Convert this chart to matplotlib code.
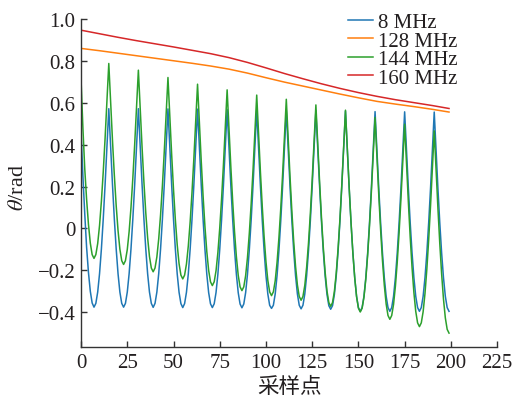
import matplotlib
matplotlib.use('Agg')
import matplotlib.pyplot as plt
import numpy as np

# ------------------------------------------------------------
# Data (sample index 0..199)
# ------------------------------------------------------------
# 8 MHz, one row per 16 samples
theta_8 = [
    0.460, 0.250, 0.070, -0.090, -0.210, -0.300, -0.356, -0.376, -0.358, -0.304, -0.216, -0.098, 0.045, 0.209, 0.387, 0.572,
    0.387, 0.209, 0.045, -0.098, -0.216, -0.304, -0.358, -0.376, -0.358, -0.304, -0.216, -0.098, 0.045, 0.209, 0.387, 0.572,
    0.387, 0.209, 0.045, -0.098, -0.216, -0.304, -0.358, -0.377, -0.358, -0.304, -0.216, -0.098, 0.045, 0.209, 0.386, 0.571,
    0.386, 0.208, 0.044, -0.099, -0.217, -0.305, -0.359, -0.378, -0.359, -0.305, -0.217, -0.099, 0.044, 0.207, 0.385, 0.570,
    0.385, 0.207, 0.043, -0.100, -0.218, -0.306, -0.360, -0.378, -0.360, -0.306, -0.218, -0.100, 0.043, 0.206, 0.384, 0.568,
    0.384, 0.206, 0.042, -0.101, -0.219, -0.307, -0.361, -0.379, -0.361, -0.307, -0.219, -0.101, 0.041, 0.205, 0.382, 0.567,
    0.382, 0.203, 0.038, -0.106, -0.225, -0.313, -0.367, -0.382, -0.367, -0.313, -0.225, -0.107, 0.036, 0.201, 0.379, 0.565,
    0.382, 0.203, 0.038, -0.106, -0.225, -0.313, -0.367, -0.384, -0.367, -0.313, -0.225, -0.107, 0.036, 0.201, 0.379, 0.563,
    0.380, 0.201, 0.036, -0.108, -0.227, -0.315, -0.369, -0.386, -0.369, -0.315, -0.227, -0.109, 0.034, 0.199, 0.376, 0.561,
    0.372, 0.193, 0.028, -0.116, -0.235, -0.324, -0.378, -0.396, -0.378, -0.324, -0.235, -0.117, 0.027, 0.191, 0.370, 0.558,
    0.372, 0.193, 0.028, -0.116, -0.235, -0.324, -0.378, -0.396, -0.378, -0.324, -0.235, -0.117, 0.027, 0.191, 0.370, 0.557,
    0.372, 0.193, 0.028, -0.116, -0.235, -0.324, -0.378, -0.396, -0.378, -0.324, -0.235, -0.117, 0.027, 0.191, 0.370, 0.556,
    0.370, 0.191, 0.027, -0.117, -0.235, -0.324, -0.378, -0.396,
]

# 144 MHz
theta_144 = [
    0.710, 0.480, 0.285, 0.139, 0.020, -0.070, -0.125, -0.143, -0.125, -0.072, 0.014, 0.130, 0.270, 0.431, 0.606, 0.788,
    0.601, 0.420, 0.254, 0.109, -0.010, -0.099, -0.154, -0.172, -0.154, -0.101, -0.015, 0.100, 0.240, 0.401, 0.575, 0.756,
    0.568, 0.387, 0.221, 0.075, -0.044, -0.134, -0.189, -0.207, -0.189, -0.136, -0.050, 0.065, 0.205, 0.366, 0.540, 0.721,
    0.533, 0.353, 0.186, 0.041, -0.078, -0.168, -0.223, -0.241, -0.223, -0.170, -0.084, 0.031, 0.172, 0.333, 0.508, 0.689,
    0.501, 0.321, 0.154, 0.009, -0.110, -0.200, -0.255, -0.273, -0.255, -0.202, -0.115, 0.001, 0.142, 0.304, 0.480, 0.662,
    0.475, 0.295, 0.129, -0.016, -0.135, -0.224, -0.279, -0.297, -0.279, -0.226, -0.139, -0.023, 0.118, 0.279, 0.455, 0.637,
    0.450, 0.270, 0.104, -0.040, -0.159, -0.248, -0.303, -0.321, -0.303, -0.250, -0.162, -0.046, 0.095, 0.258, 0.434, 0.617,
    0.430, 0.249, 0.083, -0.062, -0.181, -0.270, -0.325, -0.343, -0.325, -0.272, -0.185, -0.070, 0.071, 0.233, 0.408, 0.590,
    0.402, 0.222, 0.055, -0.090, -0.209, -0.299, -0.354, -0.372, -0.354, -0.301, -0.214, -0.097, 0.044, 0.206, 0.382, 0.565,
    0.377, 0.196, 0.029, -0.117, -0.236, -0.326, -0.381, -0.399, -0.381, -0.328, -0.242, -0.127, 0.013, 0.174, 0.349, 0.530,
    0.342, 0.161, -0.006, -0.152, -0.271, -0.361, -0.416, -0.434, -0.416, -0.363, -0.276, -0.161, -0.020, 0.141, 0.316, 0.498,
    0.309, 0.128, -0.040, -0.186, -0.306, -0.396, -0.451, -0.469, -0.451, -0.398, -0.311, -0.195, -0.054, 0.108, 0.284, 0.466,
    0.278, 0.096, -0.071, -0.217, -0.337, -0.427, -0.482, -0.500,
]

# 128 MHz and 160 MHz are smooth, read every 10 samples
smooth_x = [0, 10, 20, 30, 40, 50, 60, 70, 80, 90, 100,
            110, 120, 130, 140, 150, 160, 170, 180, 190, 199]
theta_128 = [0.860, 0.849, 0.837, 0.825, 0.813, 0.801, 0.789, 0.776, 0.761, 0.742, 0.720,
             0.699, 0.680, 0.661, 0.642, 0.624, 0.607, 0.594, 0.582, 0.569, 0.556]
theta_160 = [0.947, 0.930, 0.913, 0.897, 0.882, 0.867, 0.851, 0.835, 0.816, 0.793, 0.767,
             0.740, 0.715, 0.691, 0.669, 0.649, 0.631, 0.615, 0.601, 0.587, 0.573]

labels = ['8 MHz', '128 MHz', '144 MHz', '160 MHz']
colors = ['#1f77b4', '#ff7f0e', '#2ca02c', '#d62728']

x_ticks = [0, 25, 50, 75, 100, 125, 150, 175, 200, 225]
y_ticks = [-0.4, -0.2, 0, 0.2, 0.4, 0.6, 0.8, 1.0]
y_ticklabels = ['\u22120.4', '\u22120.2', '0', '0.2', '0.4', '0.6', '0.8', '1.0']

plt.rcParams['font.family'] = ['Liberation Serif', 'Noto Sans CJK SC']
plt.rcParams['mathtext.fontset'] = 'stix'

fig = plt.figure(figsize=(5.13, 4.02), dpi=100)
ax = fig.add_axes([0.158, 0.134, 0.811, 0.816])

samples = np.arange(len(theta_8))
ax.plot(samples, theta_8, color=colors[0], lw=1.1, label=labels[0])
ax.plot(smooth_x, theta_128, color=colors[1], lw=1.1, label=labels[1])
ax.plot(samples, theta_144, color=colors[2], lw=1.1, label=labels[2])
ax.plot(smooth_x, theta_160, color=colors[3], lw=1.1, label=labels[3])

ax.set_xlim(0, 225)
ax.set_ylim(-0.567, 1.0)
ax.set_xticks(x_ticks)
ax.set_yticks(y_ticks)
ax.set_yticklabels(y_ticklabels)

for side in ['top', 'right']:
    ax.spines[side].set_visible(False)
for side in ['left', 'bottom']:
    ax.spines[side].set_linewidth(1.0)
    ax.spines[side].set_color('#333333')
ax.tick_params(direction='in', length=4, width=1.0, color='#333333',
               labelsize=15, labelcolor='#231f20', pad=4)

ax.set_xlabel('采样点', family='Noto Sans CJK SC', fontsize=15.5,
              color='#231f20', labelpad=2.5)
ax.set_ylabel(r'$\theta$/rad', fontsize=16, color='#231f20')
ax.yaxis.set_label_coords(-0.128, 0.49)

leg = ax.legend(loc='upper right', bbox_to_anchor=(0.905, 1.02),
                frameon=False, fontsize=15, handlelength=1.2,
                handletextpad=0.25, labelspacing=-0.05, borderpad=0,
                borderaxespad=0)
for t in leg.get_texts():
    t.set_color('#231f20')

fig.savefig('out.png', dpi=100)
